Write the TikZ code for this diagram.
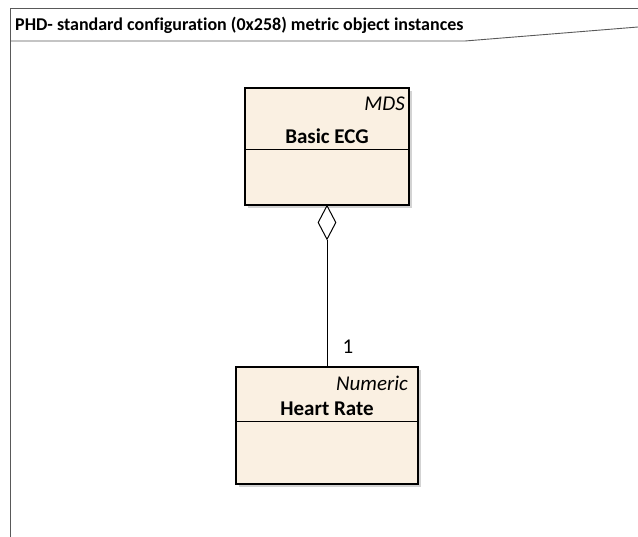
\documentclass[tikz,border=0pt]{standalone}
\usepackage{fontspec}
\setmainfont[Ligatures=NoCommon]{Carlito}
\usetikzlibrary{shadows,shapes.geometric}
\definecolor{umlfill}{RGB}{250,240,226}
\begin{document}
\begin{tikzpicture}[x=1pt,y=-1pt,
  umlbox/.style={draw=black,line width=1.2pt,fill=umlfill,
    drop shadow={shadow xshift=3pt,shadow yshift=-3pt,opacity=0.35}},
  frameline/.style={draw=black!65,line width=0.9pt},
  conn/.style={draw=black,line width=1pt},
  boxtext/.style={font=\fontsize{21}{24}\selectfont,inner sep=0pt},
  stereo/.style={font=\fontsize{21}{24}\selectfont\itshape,inner sep=0pt,anchor=east},
  cname/.style={font=\fontsize{21}{24}\selectfont\bfseries,inner sep=0pt}]
\useasboundingbox (0,0) rectangle (638,537);
% frame
\draw[frameline] (10,537) -- (10,8) -- (638,8);
\draw[frameline] (10,41) -- (465,41) -- (638,27);
\node[anchor=west,font=\bfseries\fontsize{18}{21}\selectfont,inner sep=0pt] (title) at (15,25) {PHD- standard configuration (0x258) metric object instances};
% MDS box
\path[umlbox] (245,88) rectangle (409,205);
\draw[line width=1pt] (245,150) -- (409,150);
\coordinate (mdsbot) at (327,205);
\node[stereo] (mdsst) at (405,104) {MDS};
\node[cname] (mdsname) at (327,136) {Basic ECG};
% Numeric box
\path[umlbox] (236,367) rectangle (418,484);
\draw[line width=1pt] (236,422) -- (418,422);
\coordinate (numtop) at (327,367);
\node[stereo] (numst) at (408,383) {Numeric};
\node[cname] (numname) at (327,409) {Heart Rate};
% aggregation
\node[diamond,draw=black,line width=1pt,fill=white,minimum width=18pt,minimum height=34pt,inner sep=0pt,anchor=north] (dia) at (mdsbot) {};
\draw[conn] (dia.south) -- (numtop);
\node[boxtext] (mult) at (348,347) {1};
\end{tikzpicture}
\end{document}
